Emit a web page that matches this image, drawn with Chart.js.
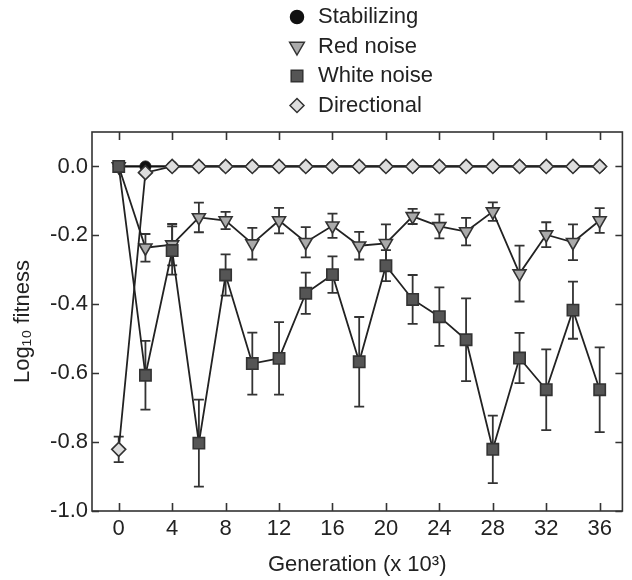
<!DOCTYPE html>
<html>
<head>
<meta charset="utf-8">
<title>Log10 fitness by generation</title>
<script src="https://cdn.jsdelivr.net/npm/chart.js@4/dist/chart.umd.min.js"></script>
<style>
    html, body { margin: 0; padding: 0; background: #fff; }
    #wrap { width: 632px; height: 580px; position: relative; }
</style>
</head>
<body>
<div id="wrap"><canvas id="chart"></canvas></div>
<script>
// Generations (x 10^3)
const generations = [0, 2, 4, 6, 8, 10, 12, 14, 16, 18, 20, 22, 24, 26, 28, 30, 32, 34, 36];

// Series values (log10 fitness)
const stabilizing = [0, 0, 0, 0, 0, 0, 0, 0, 0, 0, 0, 0, 0, 0, 0, 0, 0, 0, 0];
const redNoise = [0, -0.236, -0.227, -0.148, -0.157, -0.224, -0.157, -0.22, -0.172, -0.23,
    -0.223, -0.145, -0.174, -0.189, -0.131, -0.311, -0.198, -0.22, -0.157];
const redNoiseErr = [0, 0.04, 0.06, 0.043, 0.025, 0.046, 0.037, 0.044, 0.035, 0.04,
    0.055, 0.022, 0.035, 0.04, 0.027, 0.081, 0.036, 0.052, 0.036];
const whiteNoise = [0, -0.606, -0.244, -0.803, -0.315, -0.572, -0.557, -0.368, -0.314, -0.567,
    -0.288, -0.386, -0.436, -0.503, -0.821, -0.556, -0.648, -0.417, -0.648];
const whiteNoiseErr = [0, 0.1, 0.07, 0.126, 0.06, 0.09, 0.105, 0.06, 0.053, 0.13,
    0.045, 0.071, 0.085, 0.12, 0.098, 0.073, 0.117, 0.083, 0.123];
const directional = [-0.821, -0.018, 0, 0, 0, 0, 0, 0, 0, 0, 0, 0, 0, 0, 0, 0, 0, 0, 0];
const directionalErr = [0.037, 0, 0, 0, 0, 0, 0, 0, 0, 0, 0, 0, 0, 0, 0, 0, 0, 0, 0];

// Tick labels
const xTicks = [0, 4, 8, 12, 16, 20, 24, 28, 32, 36];
const yTicks = [-1.0, -0.8, -0.6, -0.4, -0.2, 0.0];

const FONT = "'Liberation Sans', Arial, sans-serif";
const INK = '#222';

function toPoints(values) {
    return generations.map((g, i) => ({ x: g, y: values[i] }));
}

// marker drawing shared by legend
function drawMarker(ctx, style, x, y, r, fill, stroke) {
    ctx.save();
    ctx.beginPath();
    if (style === 'circle') {
        ctx.arc(x, y, r, 0, Math.PI * 2);
    } else if (style === 'triangleDown') {
        ctx.moveTo(x, y + r);
        ctx.lineTo(x + r * 0.866, y - r * 0.5);
        ctx.lineTo(x - r * 0.866, y - r * 0.5);
        ctx.closePath();
    } else if (style === 'rect') {
        const s = r * Math.SQRT1_2;
        ctx.rect(x - s, y - s, 2 * s, 2 * s);
    } else if (style === 'diamond') {
        ctx.moveTo(x - r, y);
        ctx.lineTo(x, y - r);
        ctx.lineTo(x + r, y);
        ctx.lineTo(x, y + r);
        ctx.closePath();
    }
    ctx.fillStyle = fill;
    ctx.fill();
    ctx.lineWidth = 1.5;
    ctx.strokeStyle = stroke;
    ctx.stroke();
    ctx.restore();
}

const legendItems = [
    { label: 'Stabilizing', style: 'circle', r: 6.5, fill: '#111', stroke: '#111' },
    { label: 'Red noise', style: 'triangleDown', r: 8.5, fill: '#aaa', stroke: '#333' },
    { label: 'White noise', style: 'rect', r: 8.2, fill: '#555', stroke: '#333' },
    { label: 'Directional', style: 'diamond', r: 7, fill: '#ddd', stroke: '#333' }
];

const legendPlugin = {
    id: 'stackLegend',
    afterDraw(chart) {
        const ctx = chart.ctx;
        const ys = [17, 46.5, 76, 105.5];
        legendItems.forEach((item, i) => {
            drawMarker(ctx, item.style, 297, ys[i], item.r, item.fill, item.stroke);
            ctx.save();
            ctx.fillStyle = INK;
            ctx.font = '22px ' + FONT;
            ctx.textBaseline = 'middle';
            ctx.textAlign = 'left';
            ctx.fillText(item.label, 318, ys[i]);
            ctx.restore();
        });
    }
};

// error bars, drawn under the markers
const errorSets = [
    { values: redNoise, errs: redNoiseErr },
    { values: whiteNoise, errs: whiteNoiseErr },
    { values: directional, errs: directionalErr }
];

const errorBarPlugin = {
    id: 'errorBars',
    beforeDatasetsDraw(chart) {
        const ctx = chart.ctx;
        const xs = chart.scales.x;
        const ys = chart.scales.y;
        ctx.save();
        ctx.strokeStyle = '#333';
        ctx.lineWidth = 1.8;
        errorSets.forEach(set => {
            generations.forEach((g, i) => {
                const e = set.errs[i];
                if (!e) return;
                const px = xs.getPixelForValue(g);
                const top = ys.getPixelForValue(set.values[i] + e);
                const bot = ys.getPixelForValue(set.values[i] - e);
                ctx.beginPath();
                ctx.moveTo(px, top);
                ctx.lineTo(px, bot);
                ctx.moveTo(px - 5, top);
                ctx.lineTo(px + 5, top);
                ctx.moveTo(px - 5, bot);
                ctx.lineTo(px + 5, bot);
                ctx.stroke();
            });
        });
        ctx.restore();
    }
};

// box frame with inward ticks on all four sides
const framePlugin = {
    id: 'frame',
    afterDraw(chart) {
        const ctx = chart.ctx;
        const a = chart.chartArea;
        const xs = chart.scales.x;
        const ys = chart.scales.y;
        ctx.save();
        ctx.strokeStyle = '#333';
        ctx.lineWidth = 1.6;
        ctx.strokeRect(a.left, a.top, a.right - a.left, a.bottom - a.top);
        ctx.beginPath();
        xTicks.forEach(v => {
            const px = Math.round(xs.getPixelForValue(v)) + 0.5;
            ctx.moveTo(px, a.bottom);
            ctx.lineTo(px, a.bottom - 8);
            ctx.moveTo(px, a.top);
            ctx.lineTo(px, a.top + 8);
        });
        yTicks.forEach(v => {
            const py = Math.round(ys.getPixelForValue(v)) + 0.5;
            ctx.moveTo(a.left, py);
            ctx.lineTo(a.left + 7, py);
            ctx.moveTo(a.right, py);
            ctx.lineTo(a.right - 7, py);
        });
        ctx.stroke();
        ctx.restore();
    }
};

const ctx = document.getElementById('chart').getContext('2d');
new Chart(ctx, {
    type: 'line',
    data: {
        datasets: [
            {
                label: 'Directional',
                data: toPoints(directional),
                borderColor: '#222',
                borderWidth: 1.8,
                pointStyle: 'rectRot',
                pointRadius: 7,
                pointBackgroundColor: '#ddd',
                pointBorderColor: '#333',
                pointBorderWidth: 1.6,
                order: 0
            },
            {
                label: 'White noise',
                data: toPoints(whiteNoise),
                borderColor: '#222',
                borderWidth: 1.8,
                pointStyle: 'rect',
                pointRadius: 8,
                pointBackgroundColor: '#555',
                pointBorderColor: '#333',
                pointBorderWidth: 1.6,
                order: 1
            },
            {
                label: 'Red noise',
                data: toPoints(redNoise),
                borderColor: '#222',
                borderWidth: 1.8,
                pointStyle: 'triangle',
                pointRotation: 180,
                pointRadius: 7.5,
                pointBackgroundColor: '#aaa',
                pointBorderColor: '#333',
                pointBorderWidth: 1.6,
                order: 2
            },
            {
                label: 'Stabilizing',
                data: toPoints(stabilizing),
                borderColor: '#111',
                borderWidth: 2.2,
                pointStyle: 'circle',
                pointRadius: 5.5,
                pointBackgroundColor: '#111',
                pointBorderColor: '#111',
                pointBorderWidth: 1,
                order: 3
            }
        ]
    },
    options: {
        responsive: true,
        maintainAspectRatio: false,
        animation: false,
        layout: { padding: { top: 132, right: 1, left: 0, bottom: 0 } },
        plugins: {
            legend: { display: false },
            tooltip: { enabled: false }
        },
        elements: { line: { tension: 0 } },
        scales: {
            x: {
                type: 'linear',
                min: -2,
                max: 37.7,
                grid: { display: false, drawTicks: false },
                border: { display: false },
                afterBuildTicks: scale => {
                    scale.ticks = xTicks.map(v => ({ value: v }));
                },
                afterFit: scale => { scale.height = 69; },
                ticks: {
                    color: INK,
                    font: { family: FONT, size: 22 },
                    padding: 5,
                    maxRotation: 0,
                    autoSkip: false
                },
                title: {
                    display: true,
                    text: 'Generation (x 10³)',
                    color: INK,
                    font: { family: FONT, size: 22 },
                    padding: { top: 0, bottom: 2 }
                }
            },
            y: {
                type: 'linear',
                min: -1,
                max: 0.1,
                grid: { display: false, drawTicks: false },
                border: { display: false },
                afterBuildTicks: scale => {
                    scale.ticks = yTicks.map(v => ({ value: v }));
                },
                afterFit: scale => { scale.width = 92; },
                ticks: {
                    color: INK,
                    font: { family: FONT, size: 22 },
                    padding: 4,
                    callback: v => v.toFixed(1)
                },
                title: {
                    display: true,
                    text: 'Log₁₀ fitness',
                    color: INK,
                    font: { family: FONT, size: 22 },
                    padding: { top: 10, bottom: 0 }
                }
            }
        }
    },
    plugins: [errorBarPlugin, framePlugin, legendPlugin]
});
</script>
</body>
</html>
